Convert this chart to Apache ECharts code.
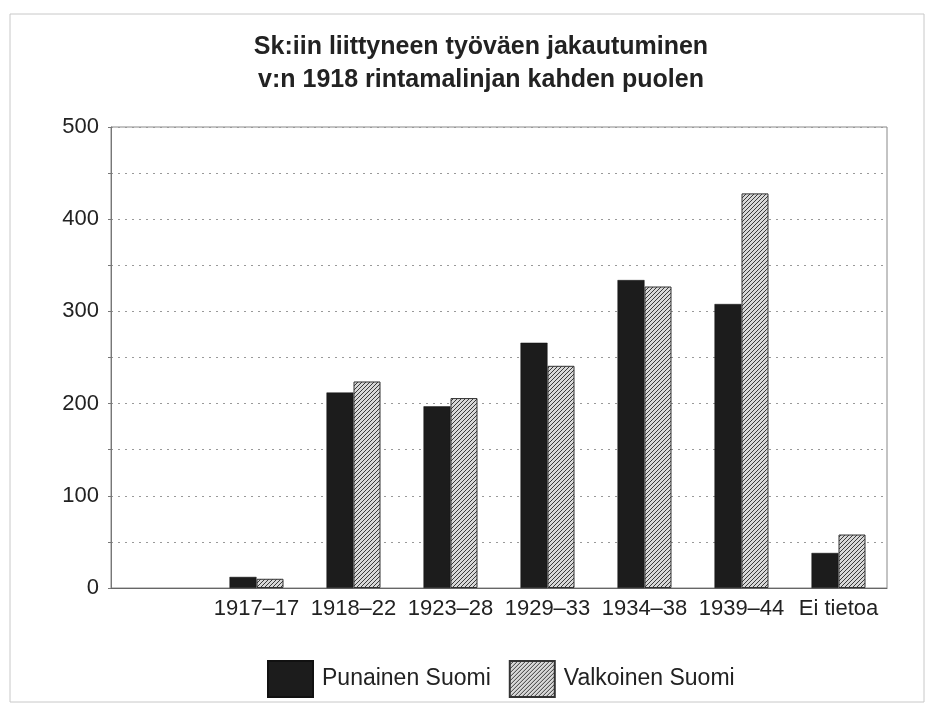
<!DOCTYPE html>
<html>
<head>
<meta charset="utf-8">
<script src="https://cdn.jsdelivr.net/npm/echarts@6/dist/echarts.min.js"></script>
<style>
  html, body { margin: 0; padding: 0; background: #fff; }
  #main { width: 933px; height: 708px; }
</style>
</head>
<body>
<div id="main"></div>
<script>
// data
var categories = ['', '1917–17', '1918–22', '1923–28', '1929–33', '1934–38', '1939–44', 'Ei tietoa'];
var punainen = [null, 12, 212, 197, 266, 334, 308, 38];
var valkoinen = [null, 10, 224, 206, 241, 327, 428, 58];
var yTicks = [0, 100, 200, 300, 400, 500];

// diagonal hatch for the second series
function hatch() {
  var c = document.createElement('canvas');
  c.width = 4; c.height = 4;
  var ctx = c.getContext('2d');
  ctx.fillStyle = '#d8d8d8';
  ctx.fillRect(0, 0, 4, 4);
  ctx.strokeStyle = '#3a3a3a';
  ctx.lineWidth = 1;
  ctx.beginPath();
  ctx.moveTo(0, 4); ctx.lineTo(4, 0);
  ctx.moveTo(-1, 1); ctx.lineTo(1, -1);
  ctx.moveTo(3, 5); ctx.lineTo(5, 3);
  ctx.stroke();
  return c;
}

var myChart = echarts.init(document.getElementById('main'));
var font = '"Liberation Sans", Arial, sans-serif';

var option = {
  backgroundColor: '#fff',
  animation: false,
  textStyle: { fontFamily: font },
  title: {
    text: 'Sk:iin liittyneen työväen jakautuminen\nv:n 1918 rintamalinjan kahden puolen',
    left: 476,
    textAlign: 'center',
    top: 26,
    textStyle: { fontSize: 25, fontWeight: 'bold', color: '#222', lineHeight: 33, fontFamily: font }
  },
  graphic: [{
    type: 'rect',
    shape: { x: 10, y: 14, width: 914, height: 688 },
    style: { fill: null, stroke: '#c8c8c8', lineWidth: 1 },
    silent: true
  }],
  legend: {
    top: 655,
    left: 262,
    itemWidth: 45,
    itemHeight: 36,
    itemGap: 18,
    icon: 'rect',
    textStyle: { fontSize: 23, color: '#222', fontFamily: font, padding: [0, 0, 0, 4] },
    data: ['Punainen Suomi', 'Valkoinen Suomi']
  },
  grid: {
    left: 111, right: 46, top: 127, bottom: 120,
    show: true, borderColor: '#888', borderWidth: 1
  },
  xAxis: {
    type: 'category',
    data: categories,
    axisLine: { lineStyle: { color: '#666' } },
    axisTick: { length: 8, lineStyle: { color: '#555' } },
    axisLabel: { fontSize: 22, color: '#222', margin: 10, interval: 0 }
  },
  yAxis: {
    type: 'value',
    min: 0, max: 500, interval: 50,
    axisLine: { show: true, lineStyle: { color: '#777' } },
    axisTick: { show: true, length: 3, lineStyle: { color: '#777' } },
    axisLabel: {
      fontSize: 22, color: '#222', margin: 12,
      formatter: function (v) { return yTicks.indexOf(v) >= 0 ? String(v) : ''; }
    },
    splitLine: { lineStyle: { color: '#999', type: [2, 5] } }
  },
  series: [
    {
      name: 'Punainen Suomi',
      type: 'bar',
      data: punainen,
      barWidth: 27,
      barGap: '0%',
      itemStyle: { color: '#1c1c1c', borderColor: '#111', borderWidth: 0.5 }
    },
    {
      name: 'Valkoinen Suomi',
      type: 'bar',
      data: valkoinen,
      barWidth: 27,
      itemStyle: { color: { image: hatch(), repeat: 'repeat' }, borderColor: '#333', borderWidth: 1 }
    }
  ]
};

myChart.setOption(option);
</script>
</body>
</html>
